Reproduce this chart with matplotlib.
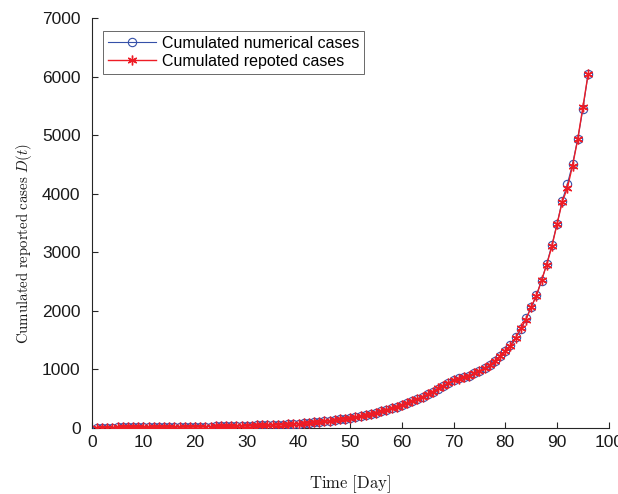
import matplotlib
matplotlib.use("Agg")
import matplotlib.pyplot as plt
import numpy as np

days = list(range(1, 97))

numerical_cases = [
    3, 4, 5, 5, 6, 7, 7, 8, 9, 10,
    10, 11, 12, 12, 13, 14, 15, 16, 17, 18,
    19, 20, 22, 23, 25, 27, 29, 31, 33, 35,
    37, 40, 43, 46, 49, 52, 56, 60, 64, 70,
    77, 84, 91, 100, 110, 120, 131, 143, 156, 170,
    185, 200, 218, 238, 260, 283, 308, 333, 360, 390,
    422, 455, 492, 532, 575, 620, 668, 718, 768, 815,
    843, 860, 889, 929, 974, 1014, 1071, 1140, 1225, 1311,
    1413, 1544, 1687, 1869, 2057, 2268, 2513, 2798, 3123, 3482,
    3880, 4166, 4508, 4935, 5448, 6040,
]

reported_cases = [
    3, 3, 4, 5, 6, 6, 7, 8, 9, 9,
    10, 11, 11, 12, 13, 14, 15, 15, 16, 18,
    19, 20, 21, 23, 25, 26, 28, 30, 33, 35,
    38, 40, 42, 45, 49, 53, 56, 59, 65, 70,
    76, 84, 92, 100, 109, 121, 132, 142, 155, 171,
    186, 199, 219, 240, 258, 284, 310, 331, 362, 388,
    425, 452, 495, 530, 578, 618, 672, 715, 770, 812,
    840, 865, 885, 932, 970, 1020, 1065, 1145, 1220, 1320,
    1400, 1530, 1700, 1850, 2070, 2250, 2520, 2790, 3100, 3480,
    3860, 4100, 4480, 4930, 5480, 6040,
]

x_ticks = [0, 10, 20, 30, 40, 50, 60, 70, 80, 90, 100]
y_ticks = [0, 1000, 2000, 3000, 4000, 5000, 6000, 7000]

plt.rcParams['font.family'] = ['Liberation Sans', 'DejaVu Sans']
plt.rcParams['mathtext.fontset'] = 'cm'

fig = plt.figure(figsize=(6.18, 4.94), dpi=100)
ax = fig.add_axes([0.1484, 0.134, 0.8366, 0.829])

blue = '#3550a8'
red = '#ee1c25'

ax.plot(days, numerical_cases, '-o', color=blue, markerfacecolor='none',
        markeredgecolor=blue, markersize=6, markeredgewidth=0.8, linewidth=0.8,
        label='Cumulated numerical cases', zorder=2)
ax.plot(days, reported_cases, '-', marker=(6, 2, 0), color=red, markersize=7,
        markeredgewidth=1.0, linewidth=1.0,
        label='Cumulated repoted cases', zorder=3)

ax.set_xlim(0, 100)
ax.set_ylim(0, 7000)
ax.set_xticks(x_ticks)
ax.set_yticks(y_ticks)

spine_col = '#262626'
for s in ['top', 'right']:
    ax.spines[s].set_visible(False)
for s in ['left', 'bottom']:
    ax.spines[s].set_color(spine_col)
    ax.spines[s].set_linewidth(0.8)
    ax.spines[s].set_zorder(1)
ax.tick_params(direction='in', length=4, width=0.8, colors=spine_col,
               labelsize=12.5, labelcolor='#1a1a1a')
ax.tick_params(axis='y', pad=8)
ax.tick_params(axis='x', pad=5)

ax.set_xlabel(r'$\mathrm{Time\ [Day]}$', fontsize=12, color='#1a1a1a')
ax.xaxis.set_label_coords(0.5, -0.112)
ax.set_ylabel(r'$\mathrm{Cumulated\ reported\ cases}\ D(t)$', fontsize=10.7,
              color='#1a1a1a')
ax.yaxis.set_label_coords(-0.111, 0.45)

leg = ax.legend(loc='upper left', bbox_to_anchor=(0.0218, 0.969),
                borderaxespad=0, fontsize=11.5, handlelength=3.0,
                frameon=True, fancybox=False, edgecolor='#262626',
                borderpad=0.3, labelspacing=0.2, handletextpad=0.4)
leg.get_frame().set_linewidth(0.6)

fig.savefig('out.png', dpi=100)
